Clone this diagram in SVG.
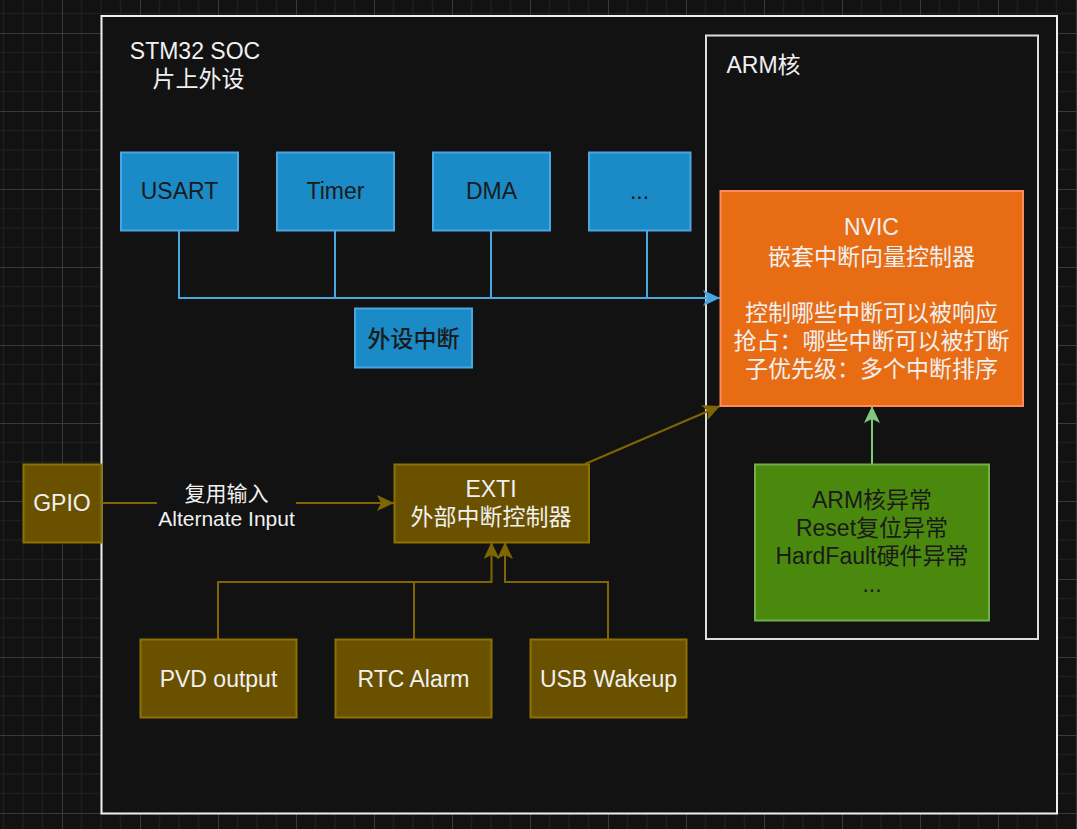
<svg xmlns="http://www.w3.org/2000/svg" width="1077" height="829" viewBox="0 0 1077 829">
<style>
text{font-family:"Liberation Sans","Noto Sans CJK SC",sans-serif;font-size:23px;text-anchor:middle}
.lt{fill:#f0f0f0}
.dk{fill:#1a1a1a}
.blue{fill:#1a8bc6;stroke:#4aa6e0;stroke-width:2}
.olive{fill:#6a5100;stroke:#8c7300;stroke-width:2}
.cb{fill:none;stroke:#4aa6e0;stroke-width:2}
.co{fill:none;stroke:#7f6600;stroke-width:2}
.cg{fill:none;stroke:#7fc97f;stroke-width:2}
</style>
<defs>
<pattern id="grid" x="62" y="33" width="78" height="78" patternUnits="userSpaceOnUse">
<path d="M19.5 0V78M39 0V78M58.5 0V78M0 19.5H78M0 39H78M0 58.5H78" stroke="#1e1e1e" stroke-width="1.5" fill="none"/>
<path d="M0.5 0V78M0 0.5H78" stroke="#3a3a3a" stroke-width="1" fill="none"/>
</pattern>
<marker id="ab" markerUnits="userSpaceOnUse" markerWidth="18" markerHeight="16" refX="17" refY="8" orient="auto"><path d="M0 0L17 8L0 16L4 8z" fill="#4aa6e0"/></marker>
<marker id="ao" markerUnits="userSpaceOnUse" markerWidth="18" markerHeight="16" refX="17" refY="8" orient="auto"><path d="M0 0L17 8L0 16L4 8z" fill="#7f6600"/></marker>
<marker id="ag" markerUnits="userSpaceOnUse" markerWidth="18" markerHeight="16" refX="17" refY="8" orient="auto"><path d="M0 0L17 8L0 16L4 8z" fill="#7fc97f"/></marker>
</defs>
<rect width="1077" height="829" fill="#121212"/>
<rect width="1077" height="829" fill="url(#grid)"/>
<g id="soc">
<rect x="101.5" y="16" width="955.5" height="797.5" fill="#121212" stroke="#f0f0f0" stroke-width="2"/>
<text class="lt" x="195" y="59">STM32 SOC</text>
<text class="lt" x="198.5" y="87">片上外设</text>
</g>
<g id="armcore">
<rect x="706" y="35.5" width="332" height="603.5" fill="#121212" stroke="#dddddd" stroke-width="2"/>
<text class="lt" x="726.5" y="73" style="text-anchor:start">ARM核</text>
</g>
<g id="connectors">
<path class="cb" d="M179 230V298H720" marker-end="url(#ab)"/>
<path class="cb" d="M335 230V298"/>
<path class="cb" d="M491 230V298"/>
<path class="cb" d="M647 230V298"/>
<path class="co" d="M101 503H394" marker-end="url(#ao)"/>
<path class="co" d="M585 464L720 406" marker-end="url(#ao)"/>
<path class="co" d="M218 639V582H491.5V542" marker-end="url(#ao)"/>
<path class="co" d="M414 639V582"/>
<path class="co" d="M608 639V582H505V542" marker-end="url(#ao)"/>
<path class="cg" d="M872 464V406" marker-end="url(#ag)"/>
<rect x="157" y="480" width="139" height="50" fill="#121212"/>
<text class="lt" x="226.5" y="501" style="font-size:21px">复用输入</text>
<text class="lt" x="226.5" y="526" style="font-size:21px">Alternate Input</text>
</g>
<g id="usart"><rect class="blue" x="121" y="152.5" width="117" height="78"/><text class="dk" x="179.5" y="199">USART</text></g>
<g id="timer"><rect class="blue" x="277" y="152.5" width="117" height="78"/><text class="dk" x="335.5" y="199">Timer</text></g>
<g id="dma"><rect class="blue" x="433" y="152.5" width="117" height="78"/><text class="dk" x="491.5" y="199">DMA</text></g>
<g id="more"><rect class="blue" x="589" y="152.5" width="101.5" height="78"/><text class="dk" x="639.5" y="199">...</text></g>
<g id="periph-irq"><rect class="blue" x="355" y="308.5" width="117" height="59"/><text class="dk" x="413.5" y="347" style="font-weight:500">外设中断</text></g>
<g id="nvic">
<rect x="720.5" y="191" width="302.5" height="215" fill="#e86c14" stroke="#ff8a5c" stroke-width="2"/>
<text class="lt" x="871.5" y="235">NVIC</text>
<text class="lt" x="871.5" y="265">嵌套中断向量控制器</text>
<text class="lt" x="871.5" y="321">控制哪些中断可以被响应</text>
<text class="lt" x="871.5" y="349">抢占：哪些中断可以被打断</text>
<text class="lt" x="871.5" y="377">子优先级：多个中断排序</text>
</g>
<g id="exceptions">
<rect x="755" y="464.5" width="234" height="156" fill="#4b890e" stroke="#74ae4c" stroke-width="2"/>
<text class="dk" x="872" y="508">ARM核异常</text>
<text class="dk" x="872" y="536">Reset复位异常</text>
<text class="dk" x="872" y="564">HardFault硬件异常</text>
<text class="dk" x="872" y="592">...</text>
</g>
<g id="gpio"><rect class="olive" x="23.5" y="464.5" width="78" height="78"/><text class="lt" x="62" y="511">GPIO</text></g>
<g id="exti">
<rect class="olive" x="394.5" y="464.5" width="194.5" height="78"/>
<text class="lt" x="491" y="497">EXTI</text>
<text class="lt" x="491" y="525">外部中断控制器</text>
</g>
<g id="pvd"><rect class="olive" x="140.5" y="639.5" width="156" height="78"/><text class="lt" x="218.5" y="687">PVD output</text></g>
<g id="rtc"><rect class="olive" x="335.5" y="639.5" width="156" height="78"/><text class="lt" x="413.5" y="687">RTC Alarm</text></g>
<g id="usb"><rect class="olive" x="530.5" y="639.5" width="156" height="78"/><text class="lt" x="608.5" y="687">USB Wakeup</text></g>
</svg>
